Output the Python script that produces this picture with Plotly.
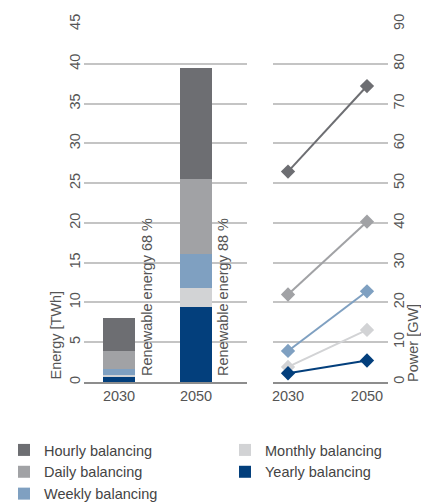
import plotly.graph_objects as go

W, H = 421, 503

years = ["2030", "2050"]
series = ["Yearly balancing", "Monthly balancing", "Weekly balancing", "Daily balancing", "Hourly balancing"]
colors = {
    "Hourly balancing": "#6d6e72",
    "Daily balancing": "#a1a2a5",
    "Weekly balancing": "#7fa0c1",
    "Monthly balancing": "#d2d3d5",
    "Yearly balancing": "#033f7c",
}
# Energy [TWh] per balancing type (stacked bars)
energy_yearly = [0.67, 9.43]
energy_monthly = [0.15, 2.37]
energy_weekly = [0.81, 4.3]
energy_daily = [2.3, 9.4]
energy_hourly = [4.07, 14.0]
# Power [GW] per balancing type (lines)
power_yearly = [2.2, 5.4]
power_monthly = [3.8, 13.1]
power_weekly = [7.8, 22.8]
power_daily = [22.0, 40.3]
power_hourly = [52.9, 74.4]
renewable_labels = ["Renewable energy 68 %", "Renewable energy 88 %"]

energy = {
    "Yearly balancing": energy_yearly,
    "Monthly balancing": energy_monthly,
    "Weekly balancing": energy_weekly,
    "Daily balancing": energy_daily,
    "Hourly balancing": energy_hourly,
}
power = {
    "Yearly balancing": power_yearly,
    "Monthly balancing": power_monthly,
    "Weekly balancing": power_weekly,
    "Daily balancing": power_daily,
    "Hourly balancing": power_hourly,
}
# legend column and rank within the column
legend_slot = {
    "Hourly balancing": ("legend", 1),
    "Daily balancing": ("legend", 2),
    "Weekly balancing": ("legend", 3),
    "Monthly balancing": ("legend2", 1),
    "Yearly balancing": ("legend2", 2),
}

FONT = "Liberation Sans, Arial, sans-serif"
TXT = "#555555"
GRID = "#c4c4c4"
AXIS = "#8d8d8d"

fig = go.Figure()
for s in series:
    lg, rk = legend_slot[s]
    fig.add_trace(go.Bar(
        x=years, y=energy[s], name=s, marker=dict(color=colors[s], line=dict(width=0)),
        width=0.416, xaxis="x", yaxis="y", legend=lg, legendrank=rk,
    ))
for s in series[::-1]:
    fig.add_trace(go.Scatter(
        x=years, y=power[s], name=s, mode="lines+markers", showlegend=False,
        line=dict(color=colors[s], width=2),
        marker=dict(symbol="diamond", size=11, color=colors[s]),
        xaxis="x2", yaxis="y2",
    ))

def px_x(p):
    return p / W

def px_y(p):
    return (H - p) / H

ydom = [px_y(382), px_y(24)]
legend_font = dict(size=14.5, color="#444444")

fig.update_layout(
    width=W, height=H,
    margin=dict(l=0, r=0, t=0, b=0, autoexpand=False),
    paper_bgcolor="white", plot_bgcolor="white",
    barmode="stack",
    font=dict(family=FONT, size=14.5, color=TXT),
    xaxis=dict(domain=[px_x(84), px_x(247)], type="category",
               range=[-0.4545, 1.662], showline=True, linecolor=AXIS, linewidth=2,
               ticks="", showgrid=False, tickfont=dict(size=14.5, color=TXT),
               automargin=False),
    yaxis=dict(domain=ydom, range=[0, 45], dtick=5, tick0=0, showgrid=True,
               gridcolor=GRID, gridwidth=1.5, zeroline=False, showline=False,
               tickangle=-90, tickfont=dict(size=14.5, color=TXT), anchor="x",
               automargin=False),
    xaxis2=dict(domain=[px_x(273), px_x(388)], type="category",
                range=[-0.19, 1.266], showline=True, linecolor=AXIS, linewidth=2,
                ticks="", showgrid=False, tickfont=dict(size=14.5, color=TXT),
                anchor="y2", automargin=False),
    yaxis2=dict(domain=ydom, range=[0, 90], dtick=10, tick0=0, showgrid=True,
                gridcolor=GRID, gridwidth=1.5, zeroline=False, showline=False,
                side="right", anchor="x2", automargin=False,
                tickangle=-90, tickfont=dict(size=14.5, color=TXT)),
    legend=dict(orientation="v", x=px_x(4), y=px_y(434), xanchor="left", yanchor="top",
                traceorder="normal", font=legend_font, bgcolor="rgba(0,0,0,0)"),
    legend2=dict(orientation="v", x=px_x(225), y=px_y(434), xanchor="left", yanchor="top",
                 traceorder="normal", font=legend_font, bgcolor="rgba(0,0,0,0)"),
    showlegend=True,
)

annots = [
    dict(text="Energy [TWh]", x=px_x(55), y=px_y(381), xanchor="center", yanchor="bottom"),
    dict(text="Power [GW]", x=px_x(413), y=px_y(384), xanchor="center", yanchor="bottom"),
    dict(text=renewable_labels[0], x=px_x(147), y=px_y(378), xanchor="center", yanchor="bottom"),
    dict(text=renewable_labels[1], x=px_x(223), y=px_y(378), xanchor="center", yanchor="bottom"),
]
for a in annots:
    fig.add_annotation(xref="paper", yref="paper", showarrow=False, textangle=-90,
                       font=dict(size=14.5, color=TXT), **a)

fig.write_html("out.html", config={"displayModeBar": False},
               post_script="document.body.style.margin='0';")
